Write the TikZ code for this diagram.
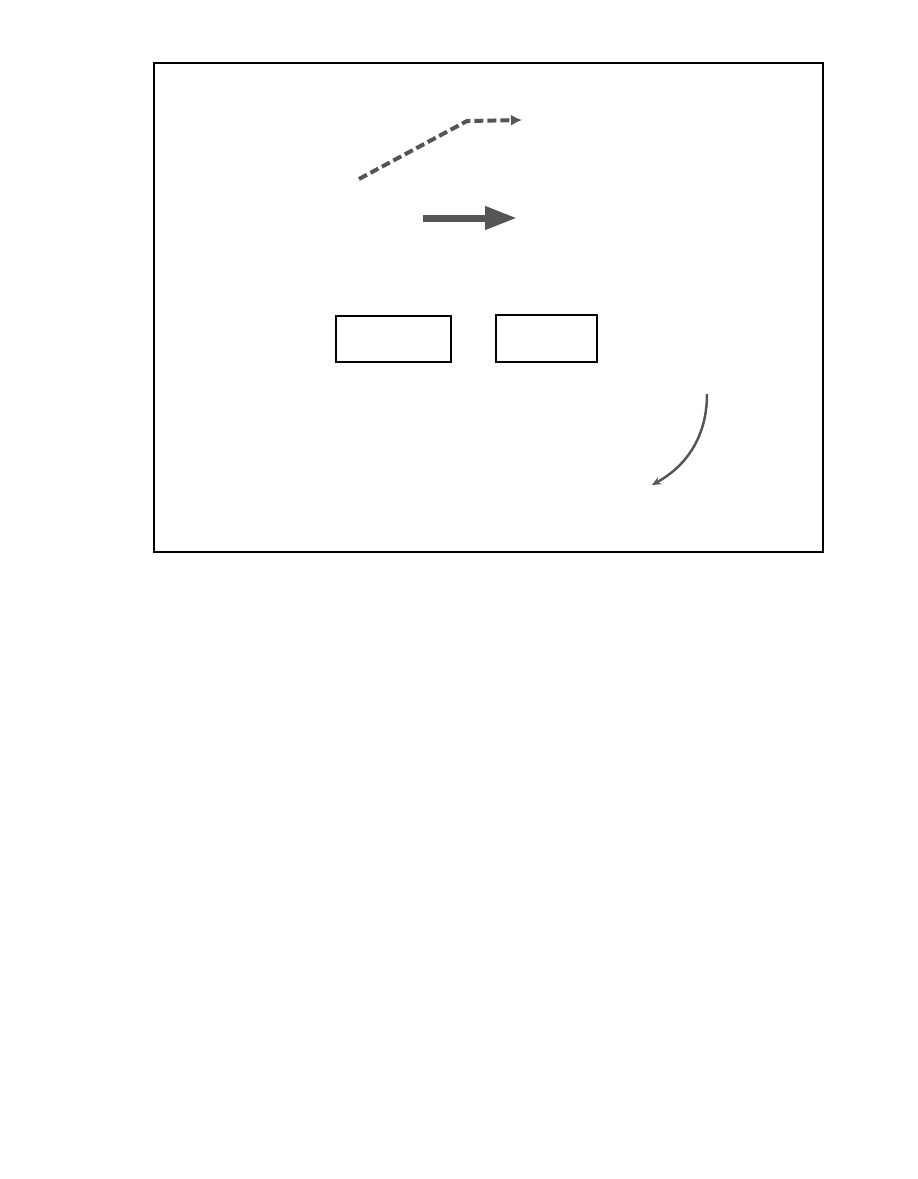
\documentclass[tikz,border=0pt]{standalone}
\usetikzlibrary{arrows.meta}
\begin{document}
\begin{tikzpicture}[x=1pt,y=-1pt,
  frame/.style={draw=black,line width=1.5pt},
  plainbox/.style={draw=black,line width=1.5pt,inner sep=0pt},
  grayline/.style={draw=arrgray},
]
\definecolor{arrgray}{HTML}{555555}
\useasboundingbox (0,0) rectangle (918,1179);
\fill[white] (0,0) rectangle (918,1179);
\node[frame,minimum width=669pt,minimum height=489pt,inner sep=0pt,anchor=north west] (outer) at (153,62) {};
% dashed arrow
\coordinate (d1) at (359,179);
\coordinate (d2) at (467,121);
\coordinate (d3) at (522,120);
\draw[grayline,line width=4pt,dash pattern=on 9pt off 4pt,-{Latex[length=11pt,width=11pt]}] (d1) -- (d2) -- (d3);
% thick arrow
\coordinate (t1) at (423,218);
\coordinate (t2) at (517,218);
\draw[grayline,line width=7pt,-{Triangle[length=32pt,width=22pt]}] (t1) -- (t2);
% boxes
\node[plainbox,minimum width=115pt,minimum height=46pt,anchor=north west] (b1) at (335,315) {};
\node[plainbox,minimum width=101pt,minimum height=47pt,anchor=north west] (b2) at (495,314) {};
% curved arrow
\coordinate (c1) at (707,394);
\coordinate (c2) at (652,485);
\draw[grayline,line width=2.5pt,-{Stealth[length=9pt,width=8pt]}] (c1) .. controls (707,435) and (688,465) .. (c2);
\end{tikzpicture}
\end{document}
